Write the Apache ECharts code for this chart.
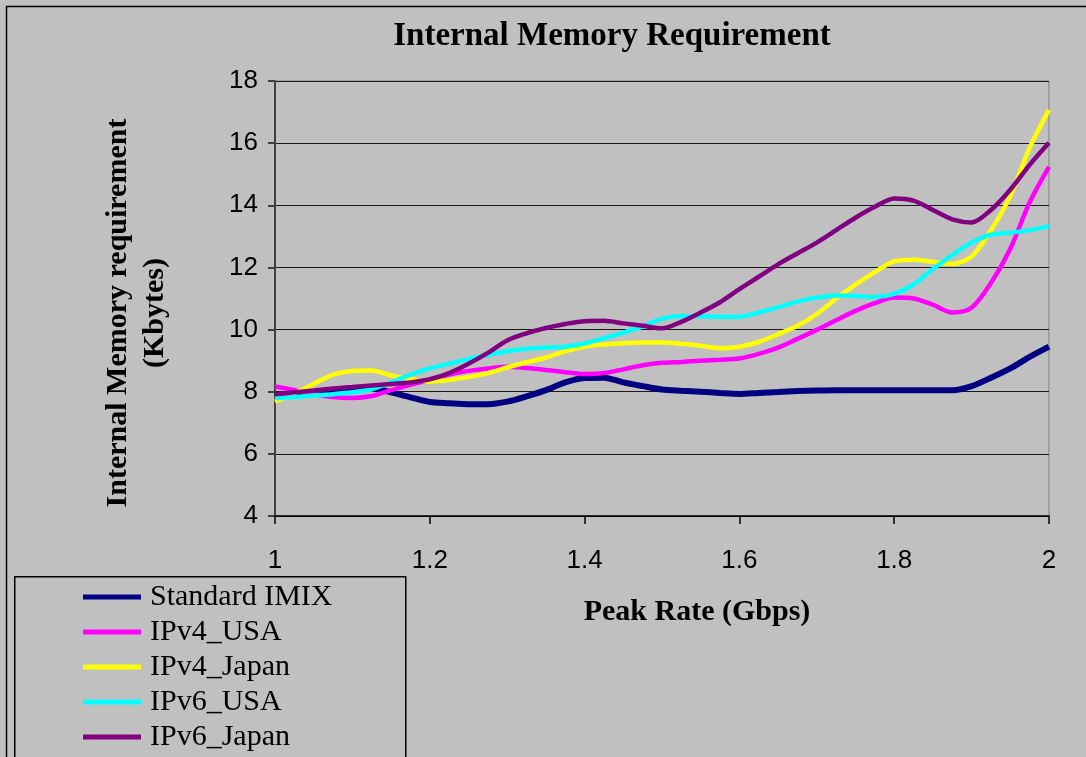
<!DOCTYPE html>
<html>
<head>
<meta charset="utf-8">
<script src="https://cdn.jsdelivr.net/npm/echarts@6/dist/echarts.min.js"></script>
<style>
html,body{margin:0;padding:0;background:#c0c0c0;}
#chart{width:1086px;height:757px;}
</style>
</head>
<body>
<div id="chart"></div>
<script>
const xValues = [1.000,1.025,1.050,1.075,1.100,1.125,1.150,1.175,1.200,1.225,1.250,1.275,1.300,1.325,1.350,1.375,1.400,1.425,1.450,1.475,1.500,1.525,1.550,1.575,1.600,1.625,1.650,1.675,1.700,1.725,1.750,1.775,1.800,1.825,1.850,1.875,1.900,1.925,1.950,1.975,2.000];

const standardIMIX = [7.85,7.92,7.98,8.05,8.10,8.12,7.98,7.82,7.67,7.63,7.60,7.60,7.68,7.85,8.05,8.30,8.44,8.45,8.30,8.18,8.07,8.03,8.00,7.96,7.93,7.96,7.99,8.02,8.04,8.05,8.05,8.05,8.05,8.05,8.05,8.05,8.18,8.45,8.75,9.12,9.45];
const ipv4USA = [8.17,8.05,7.93,7.83,7.80,7.86,8.05,8.22,8.38,8.55,8.67,8.75,8.80,8.76,8.70,8.63,8.57,8.60,8.72,8.85,8.93,8.96,9.00,9.03,9.07,9.22,9.42,9.70,9.99,10.30,10.60,10.85,11.03,11.00,10.80,10.55,10.70,11.50,12.60,14.10,15.24];
const ipv4Japan = [7.68,7.95,8.25,8.55,8.67,8.68,8.52,8.41,8.33,8.38,8.47,8.60,8.78,8.95,9.10,9.30,9.45,9.52,9.56,9.58,9.58,9.54,9.48,9.40,9.45,9.60,9.85,10.12,10.50,11.00,11.45,11.85,12.20,12.25,12.18,12.12,12.35,13.20,14.30,15.85,17.07];
const ipv6USA = [7.80,7.83,7.88,7.92,7.98,8.08,8.30,8.55,8.75,8.90,9.05,9.18,9.30,9.38,9.42,9.45,9.55,9.72,9.90,10.10,10.35,10.44,10.43,10.41,10.41,10.55,10.72,10.90,11.03,11.10,11.08,11.05,11.15,11.45,11.95,12.40,12.80,13.05,13.12,13.20,13.33];
const ipv6Japan = [7.92,7.98,8.04,8.10,8.15,8.20,8.25,8.30,8.40,8.60,8.90,9.25,9.65,9.88,10.05,10.18,10.27,10.28,10.20,10.12,10.04,10.25,10.55,10.88,11.30,11.70,12.10,12.45,12.80,13.20,13.60,13.95,14.22,14.15,13.85,13.55,13.45,13.85,14.50,15.30,16.01];

const seriesNames = ['Standard IMIX','IPv4_USA','IPv4_Japan','IPv6_USA','IPv6_Japan'];
const seriesColors = ['#000080','#ff00ff','#ffff00','#00ffff','#800080'];
const seriesWidths = [6,4.5,4.5,4.5,4.5];
const seriesData = [standardIMIX, ipv4USA, ipv4Japan, ipv6USA, ipv6Japan];

const chart = echarts.init(document.getElementById('chart'), null, {renderer:'canvas'});
const serif = '"Liberation Serif","Times New Roman",serif';
const sans = '"Liberation Sans",Arial,sans-serif';

const option = {
  backgroundColor: '#c0c0c0',
  animation: false,
  title: {
    text: 'Internal Memory Requirement',
    left: 607, top: 15, textAlign: 'center',
    textStyle: {fontFamily: serif, fontWeight: 'bold', fontSize: 33, color: '#000'}
  },
  graphic: [
    {type:'rect', left: 4, top: 4, shape:{width: 1090, height: 760}, style:{fill:'none', stroke:'#000', lineWidth:1.5}, silent:true, z:-1},
    {type:'rect', left: 14, top: 576, shape:{width: 391, height: 190}, style:{fill:'#c0c0c0', stroke:'#000', lineWidth:1.5}, z: 5},
    {type:'text', x: 137, y: 313, rotation: Math.PI/2, style:{text:'Internal Memory requirement\n(Kbytes)', fill:'#000', font:'bold 30px ' + serif, align:'center', verticalAlign:'middle', textAlign:'center', textVerticalAlign:'middle', lineHeight: 37}, z: 5}
  ],
  legend: {
    orient: 'vertical',
    left: 83, top: 582, padding: 0,
    itemWidth: 58, itemHeight: 5, itemGap: 5,
    icon: 'rect',
    data: seriesNames.map((n,i)=>({name:n, itemStyle:{color:seriesColors[i]}})),
    textStyle: {fontFamily: serif, fontSize: 30, color:'#000', padding:[0,0,0,4]},
    z: 10
  },
  grid: {left: 275, right: 37, top: 81, bottom: 241, show: true, borderColor:'#808080', borderWidth:1, backgroundColor:'#c0c0c0'},
  xAxis: {
    type: 'value', min: 1, max: 2, interval: 0.2,
    name: 'Peak Rate (Gbps)', nameLocation: 'middle', nameGap: 81,
    nameTextStyle: {fontFamily: serif, fontWeight:'bold', fontSize: 30, color:'#000', padding:[0,0,0,70]},
    axisLine: {show:true, onZero:false, lineStyle:{color:'#000', width:1.5}},
    axisTick: {show:true, length: 8, lineStyle:{color:'#000', width:1.5}},
    axisLabel: {fontFamily: sans, fontSize: 26, color:'#000', margin: 32},
    splitLine: {show:false}
  },
  yAxis: {
    type: 'value', min: 4, max: 18, interval: 2,
    axisLine: {show:true, lineStyle:{color:'#404040', width:2}},
    axisTick: {show:true, length: 7, lineStyle:{color:'#404040', width:2}},
    axisLabel: {fontFamily: sans, fontSize: 26, color:'#000', margin: 17},
    splitLine: {show:true, lineStyle:{color:'#1a1a1a', width:1}}
  },
  series: seriesData.map((d,i)=>({
    name: seriesNames[i],
    type: 'line',
    data: xValues.map((x,j)=>[x, d[j]]),
    showSymbol: false,
    smooth: 0.3,
    lineStyle: {color: seriesColors[i], width: seriesWidths[i]},
    itemStyle: {color: seriesColors[i]},
    z: 2 + i
  }))
};
chart.setOption(option);
</script>
</body>
</html>
